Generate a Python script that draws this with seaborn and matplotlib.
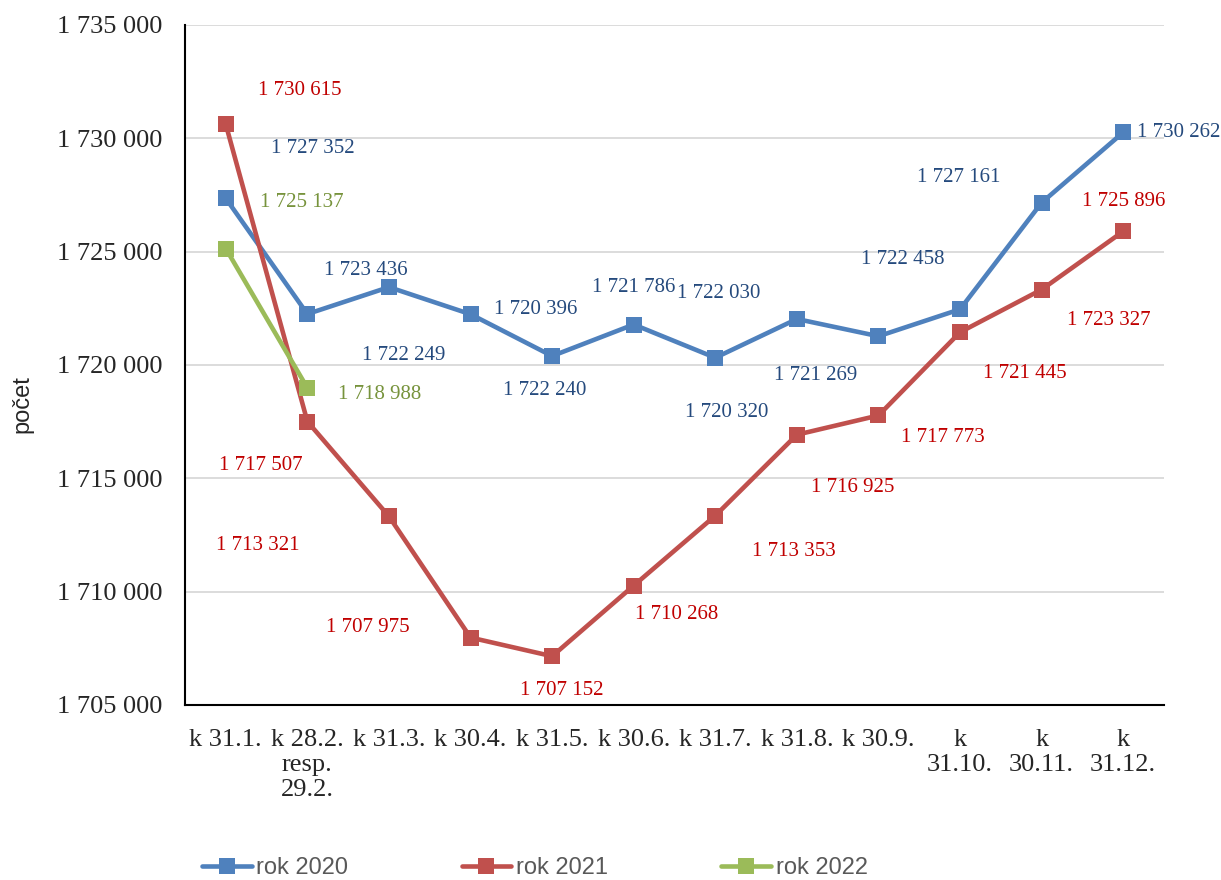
import numpy as np
import pandas as pd
from matplotlib import pyplot as plt
import matplotlib.ticker as mticker
import seaborn as sns

categories = ['k 31.1.', 'k 28.2.\nresp.\n29.2.', 'k 31.3.', 'k 30.4.', 'k 31.5.', 'k 30.6.',
              'k 31.7.', 'k 31.8.', 'k 30.9.', 'k\n31.10.', 'k\n30.11.', 'k\n31.12.']

rok_2020 = [1727352, 1722249, 1723436, 1722240, 1720396, 1721786,
            1720320, 1722030, 1721269, 1722458, 1727161, 1730262]
rok_2021 = [1730615, 1717507, 1713321, 1707975, 1707152, 1710268,
            1713353, 1716925, 1717773, 1721445, 1723327, 1725896]
rok_2022 = [1725137, 1718988]

series_names = ['rok 2020', 'rok 2021', 'rok 2022']
line_colors = ['#4F81BD', '#C0504D', '#9BBB59']
label_colors = ['#254A7D', '#C00000', '#77933C']

# label offsets from the point, in pixels (dx right, dy down)
off_2020 = [(87, -50), (96, 41), (-23, -17), (74, 76), (-16, -47), (0, -37),
            (11, 55), (-78, -25), (-63, 39), (-57, -50), (-83, -25), (55, 0)]
off_2021 = [(74, -34), (-47, 44), (-131, 29), (-103, -10), (10, 34), (43, 29),
            (79, 36), (56, 53), (64, 22), (65, 41), (67, 31), (0, -30)]
off_2022 = [(76, -46), (72, 7)]

sns.set_style('white')
plt.rcParams['font.family'] = ['Liberation Serif', 'DejaVu Serif']

rows = []
for name, vals in zip(series_names, [rok_2020, rok_2021, rok_2022]):
    for i, v in enumerate(vals):
        rows.append({'pos': i, 'value': v, 'series': name})
df = pd.DataFrame(rows)

fig = plt.figure(figsize=(12.21, 8.8), dpi=100)
ax = fig.add_axes([185 / 1221, 1 - 705 / 880, (1164 - 185) / 1221, (705 - 25) / 880])

sns.lineplot(data=df, x='pos', y='value', hue='series', palette=line_colors,
             marker='s', markersize=11, markeredgewidth=0, linewidth=3.3,
             sort=False, ax=ax, legend=True, zorder=3)

for vals, offs, col in zip([rok_2020, rok_2021, rok_2022], [off_2020, off_2021, off_2022], label_colors):
    for i, (v, (dx, dy)) in enumerate(zip(vals, offs)):
        ax.annotate(f'{v:,}'.replace(',', ' '), (i, v), xytext=(dx * 0.72, -dy * 0.72),
                    textcoords='offset points', ha='center', va='center',
                    fontsize=15, color=col, annotation_clip=False, zorder=4)

ax.set_xlim(-0.5, 11.5)
ax.set_ylim(1705000, 1735000)
ax.yaxis.set_major_locator(mticker.MultipleLocator(5000))
ax.yaxis.set_major_formatter(mticker.FuncFormatter(lambda v, p: f'{int(v):,}'.replace(',', ' ')))
ax.set_xticks(range(len(categories)))
ax.set_xticklabels(categories, fontsize=19)
ax.set_xticks(np.arange(-0.5, 12, 1), minor=True)
ax.tick_params(axis='x', which='major', length=0, pad=17)
ax.tick_params(axis='x', which='minor', length=6, width=1.5, color='black', direction='out')
ax.tick_params(axis='y', length=7, width=1.5, color='black', direction='out', labelsize=19, pad=9)
ax.yaxis.grid(True, color='#D9D9D9', linewidth=1.3, zorder=0)
ax.set_axisbelow(True)

for s in ['top', 'right']:
    ax.spines[s].set_visible(False)
for s in ['left', 'bottom']:
    ax.spines[s].set_color('black')
    ax.spines[s].set_linewidth(1.5)

ax.set_xlabel('')
ax.set_ylabel('')
fig.text(0.018, 0.541, 'počet', rotation=90, ha='center', va='center',
         fontsize=17, family=['Liberation Sans', 'DejaVu Sans'])

handles, labels = ax.get_legend_handles_labels()
leg = ax.legend(handles, labels, loc='center', bbox_to_anchor=(0.438, 0.0136),
                bbox_transform=fig.transFigure, ncol=3, frameon=False,
                handlelength=2.1, handletextpad=0.2, columnspacing=4.8,
                prop={'family': ['Liberation Sans', 'DejaVu Sans'], 'size': 17})
for t in leg.get_texts():
    t.set_color('#595959')

fig.savefig('out.png', dpi=100)
